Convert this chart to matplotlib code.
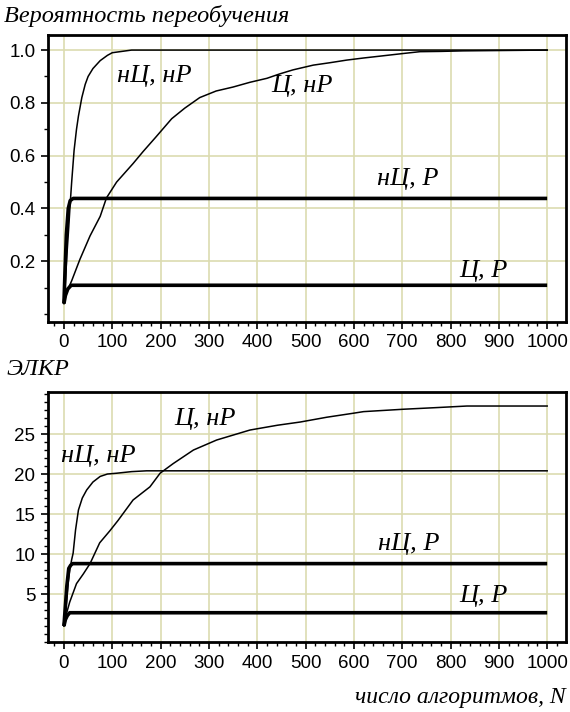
import matplotlib
matplotlib.use("Agg")
import matplotlib.pyplot as plt
from matplotlib.ticker import MultipleLocator

# ---------------- data ----------------
# top panel: overfitting probability
top_nn_x = [0, 3, 6, 10, 13, 16, 21, 26, 30, 37, 44, 50, 60, 75, 90, 100, 120, 140, 1000]
top_nn_y = [0.04, 0.12, 0.22, 0.33, 0.42, 0.50, 0.62, 0.70, 0.75, 0.82, 0.87, 0.90, 0.93, 0.96, 0.98, 0.99, 0.995, 1.0, 1.0]

top_cn_x = [0, 5, 16, 33, 54, 75, 88, 109, 143, 164, 190, 223, 250, 281, 315, 350, 385, 420, 447, 474,
            516, 550, 585, 620, 654, 702, 737, 780, 826, 1000]
top_cn_y = [0.04, 0.08, 0.126, 0.207, 0.296, 0.37, 0.44, 0.50, 0.57, 0.616, 0.67, 0.74, 0.78, 0.82, 0.845,
            0.86, 0.878, 0.893, 0.91, 0.925, 0.943, 0.952, 0.962, 0.97, 0.977, 0.987, 0.994, 0.995, 0.997, 1.0]

top_nr_x = [0, 2, 5, 9, 13, 19, 1000]
top_nr_y = [0.04, 0.15, 0.30, 0.40, 0.43, 0.438, 0.438]

top_cr_x = [0, 3, 8, 15, 1000]
top_cr_y = [0.04, 0.07, 0.095, 0.109, 0.109]

# bottom panel: ЭЛКР
bot_nn_x = [0, 3, 6, 9, 12, 16, 19, 24, 30, 38, 47, 60, 75, 90, 109, 140, 171, 1000]
bot_nn_y = [1.0, 2.5, 4.5, 6.5, 8.0, 9.3, 10.1, 13.0, 15.5, 17.0, 18.0, 19.0, 19.7, 20.0, 20.1, 20.3, 20.4, 20.4]

bot_cn_x = [0, 5, 12, 26, 40, 54, 74, 95, 112, 143, 178, 199, 226, 268, 316, 385, 442, 489, 544, 599,
            620, 703, 770, 834, 1000]
bot_cn_y = [1.0, 2.5, 4.0, 6.3, 7.5, 8.8, 11.4, 12.9, 14.2, 16.75, 18.4, 20.1, 21.3, 23.0, 24.25, 25.5,
            26.1, 26.5, 27.1, 27.6, 27.8, 28.1, 28.3, 28.5, 28.5]

bot_nr_x = [0, 3, 6, 10, 14, 18, 1000]
bot_nr_y = [1.0, 3.5, 6.0, 8.2, 8.6, 8.8, 8.8]

bot_cr_x = [0, 3, 7, 12, 1000]
bot_cr_y = [1.0, 1.8, 2.3, 2.66, 2.66]

x_ticks = [0, 100, 200, 300, 400, 500, 600, 700, 800, 900, 1000]
top_yticks = [0.2, 0.4, 0.6, 0.8, 1.0]
bot_yticks = [5, 10, 15, 20, 25]

label_nn = "нЦ, нР"
label_cn = "Ц, нР"
label_nr = "нЦ, Р"
label_cr = "Ц, Р"
title_top = "Вероятность переобучения"
title_bot = "ЭЛКР"
xlabel = "число алгоритмов, N"

# ---------------- style ----------------
grid_c = "#dcdcb0"
serif = "Liberation Serif"
sans = "Liberation Sans"

fig = plt.figure(figsize=(5.7, 7.12), dpi=100)
ax1 = fig.add_axes([0.0842, 0.5478, 0.9088, 0.4030])
ax2 = fig.add_axes([0.0842, 0.0983, 0.9088, 0.3511])


def style(ax, ylim, yticks, ymin_step, ytick_fmt):
    ax.set_xlim(-33, 1039)
    ax.set_ylim(*ylim)
    ax.set_xticks(x_ticks)
    ax.set_xticklabels([str(v) for v in x_ticks])
    ax.xaxis.set_minor_locator(MultipleLocator(20))
    ax.set_yticks(yticks)
    ax.set_yticklabels([ytick_fmt(v) for v in yticks])
    ax.yaxis.set_minor_locator(MultipleLocator(ymin_step))
    ax.grid(True, which="major", color=grid_c, lw=1.2)
    ax.set_axisbelow(True)
    for s in ax.spines.values():
        s.set_linewidth(2.0)
        s.set_color("black")
    ax.tick_params(which="major", direction="out", length=5, width=1.2, labelsize=13.5, pad=4)
    ax.tick_params(which="minor", direction="out", length=3, width=1.0)
    for lab in ax.get_xticklabels() + ax.get_yticklabels():
        lab.set_fontfamily(sans)


def curves(ax, nn, cn, nr, cr):
    ax.plot(nn[0], nn[1], color="black", lw=1.1)
    ax.plot(cn[0], cn[1], color="black", lw=1.1)
    ax.plot(nr[0], nr[1], color="black", lw=2.6, solid_capstyle="butt")
    ax.plot(cr[0], cr[1], color="black", lw=2.6, solid_capstyle="butt")


curves(ax1, (top_nn_x, top_nn_y), (top_cn_x, top_cn_y), (top_nr_x, top_nr_y), (top_cr_x, top_cr_y))
style(ax1, (-0.03, 1.057), top_yticks, 0.1, lambda v: f"{v:.1f}")

curves(ax2, (bot_nn_x, bot_nn_y), (bot_cn_x, bot_cn_y), (bot_nr_x, bot_nr_y), (bot_cr_x, bot_cr_y))
style(ax2, (-1.0, 30.25), bot_yticks, 1, lambda v: f"{v:d}")

ann = dict(fontfamily=serif, fontstyle="italic", fontsize=19, color="black", va="baseline")
ax1.text(110, 0.88, label_nn, **ann)
ax1.text(429, 0.84, label_cn, **ann)
ax1.text(648, 0.49, label_nr, **ann)
ax1.text(818, 0.14, label_cr, **ann)

ax2.text(228, 26.1, label_cn, **ann)
ax2.text(-6, 21.5, label_nn, **ann)
ax2.text(650, 10.5, label_nr, **ann)
ax2.text(818, 4.0, label_cr, **ann)

fig.text(4 / 570, 1 - 22 / 712, title_top, fontfamily=serif, fontstyle="italic", fontsize=17.5, va="baseline")
fig.text(6 / 570, 1 - 375 / 712, title_bot, fontfamily=serif, fontstyle="italic", fontsize=17.5, va="baseline")
fig.text(566 / 570, 1 - 703 / 712, xlabel, fontfamily=serif, fontstyle="italic", fontsize=17,
         va="baseline", ha="right")

fig.savefig("out.png", dpi=100)
